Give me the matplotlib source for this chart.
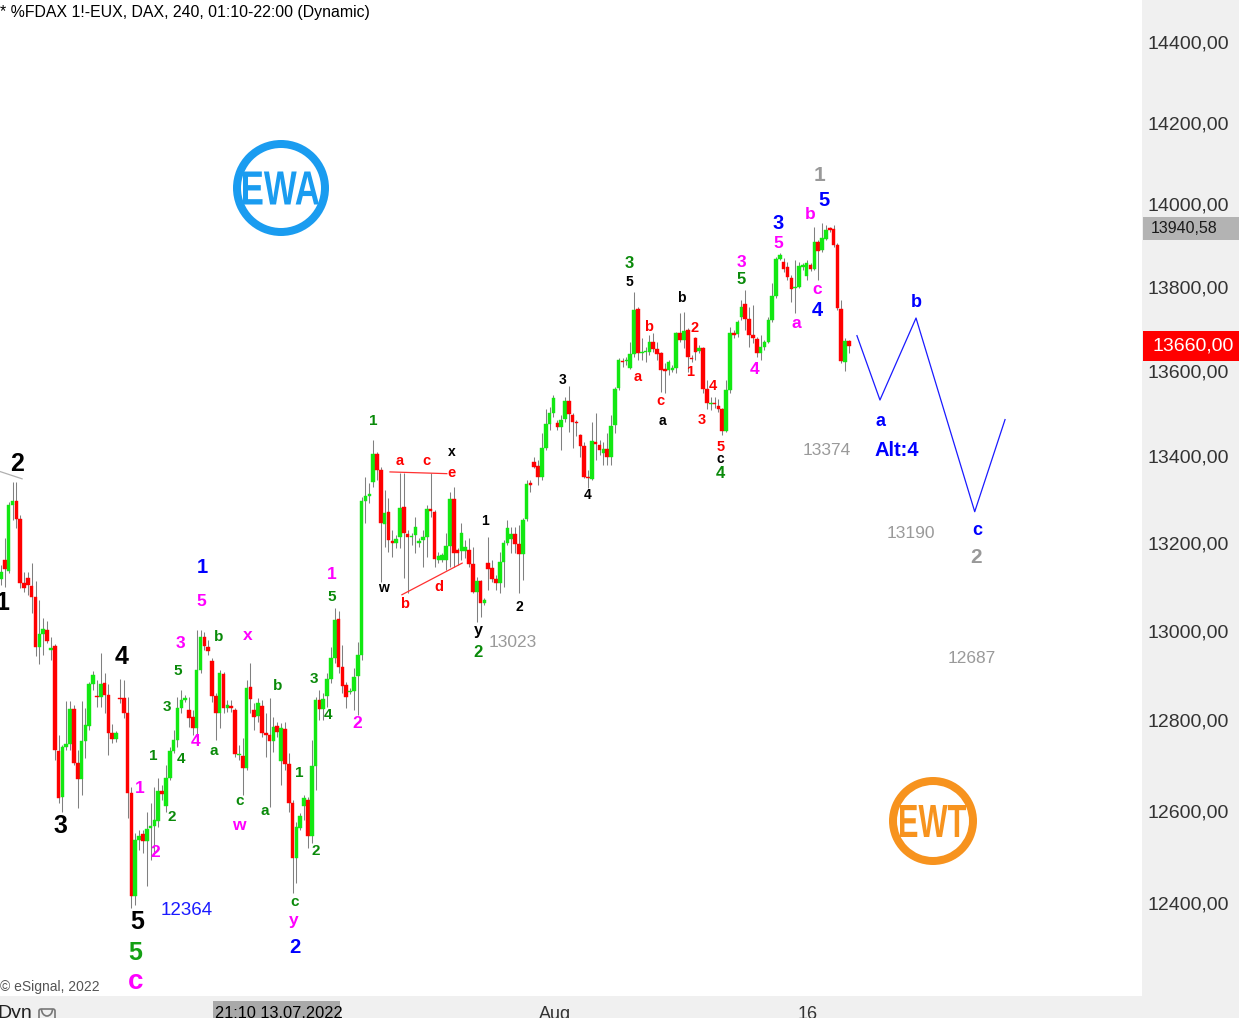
import matplotlib
matplotlib.use("Agg")
import matplotlib.pyplot as plt
from matplotlib.patches import Rectangle, Wedge, PathPatch, FancyBboxPatch, Arc
from matplotlib.textpath import TextPath
from matplotlib.font_manager import FontProperties
from matplotlib.transforms import Affine2D, blended_transform_factory
from matplotlib.ticker import FixedLocator, FuncFormatter, NullLocator

# ---------------- data (FDAX, 240 min bars) ----------------
opens = [13118, 13161, 13136, 13288, 13297, 13255, 13109, 13120, 13102, 13077,
         12964, 12993, 13002, 12957, 12966, 12732, 12631, 12740, 12747, 12825,
         12705, 12670, 12754, 12787, 12881, 12854, 12852, 12883, 12856, 12771,
         12758, 12850, 12850, 12816, 12639, 12415, 12537, 12550, 12535, 12563,
         12567, 12578, 12644, 12611, 12672, 12732, 12756, 12827, 12845, 12823,
         12807, 12782, 12913, 12987, 12964, 12933, 12854, 12816, 12904, 12827,
         12832, 12823, 12723, 12721, 12694, 12875, 12823, 12809, 12832, 12771,
         12767, 12754, 12787, 12710, 12780, 12703, 12617, 12498, 12563, 12611,
         12624, 12546, 12699, 12845, 12825, 12854, 12892, 12939, 13027, 12919,
         12879, 12863, 12865, 12899, 12946, 13297, 13308, 13341, 13406, 13369,
         13244, 13271, 13205, 13200, 13214, 13283, 13221, 13214, 13218, 13200,
         13207, 13214, 13278, 13271, 13161, 13161, 13161, 13193, 13302, 13184,
         13182, 13182, 13184, 13152, 13089, 13113, 13064, 13155, 13143, 13118,
         13109, 13157, 13200, 13209, 13221, 13198, 13175, 13255, 13339, 13387,
         13378, 13353, 13420, 13476, 13502, 13479, 13469, 13488, 13530, 13497,
         13481, 13451, 13425, 13353, 13348, 13434, 13427, 13408, 13418, 13399,
         13474, 13560, 13624, 13624, 13608, 13641, 13747, 13643, 13646, 13646,
         13669, 13653, 13643, 13605, 13603, 13603, 13608, 13691, 13674, 13698,
         13631, 13679, 13648, 13655, 13558, 13523, 13525, 13518, 13511, 13460,
         13556, 13691, 13688, 13729, 13759, 13724, 13686, 13677, 13643, 13657,
         13669, 13722, 13779, 13868, 13860, 13848, 13822, 13798, 13800, 13848,
         13827, 13853, 13843, 13908, 13889, 13916, 13942, 13940, 13901, 13747,
         13622, 13672]
highs = [13150, 13212, 13294, 13341, 13341, 13264, 13134, 13134, 13155, 13113,
         13070, 13030, 13023, 12987, 12971, 12767, 12745, 12843, 12843, 12834,
         12734, 12843, 12827, 12886, 12910, 12890, 12950, 12906, 12881, 12791,
         12776, 12892, 12890, 12852, 12653, 12552, 12559, 12559, 12598, 12617,
         12653, 12672, 12657, 12701, 12740, 12778, 12852, 12868, 12856, 12852,
         12823, 13002, 13002, 12998, 12980, 12939, 12861, 12913, 12908, 12845,
         12845, 12827, 12745, 12760, 12890, 12928, 12838, 12850, 12845, 12816,
         12850, 12807, 12796, 12794, 12796, 12727, 12624, 12576, 12596, 12635,
         12631, 12756, 12852, 12868, 12861, 12906, 12964, 13052, 13045, 12968,
         12886, 12872, 12917, 12975, 13306, 13353, 13339, 13439, 13411, 13376,
         13323, 13304, 13230, 13218, 13362, 13362, 13230, 13223, 13260, 13212,
         13230, 13288, 13362, 13276, 13179, 13177, 13223, 13318, 13329, 13189,
         13246, 13207, 13212, 13191, 13123, 13116, 13075, 13214, 13161, 13127,
         13179, 13207, 13253, 13237, 13237, 13242, 13258, 13346, 13346, 13399,
         13392, 13455, 13511, 13516, 13544, 13486, 13497, 13539, 13565, 13502,
         13486, 13453, 13434, 13369, 13481, 13502, 13439, 13434, 13455, 13497,
         13563, 13631, 13631, 13634, 13669, 13788, 13752, 13679, 13657, 13686,
         13691, 13669, 13646, 13619, 13627, 13615, 13693, 13738, 13740, 13703,
         13638, 13681, 13662, 13657, 13579, 13539, 13539, 13535, 13514, 13579,
         13705, 13698, 13722, 13769, 13793, 13752, 13757, 13681, 13686, 13674,
         13729, 13810, 13872, 13882, 13870, 13860, 13829, 13865, 13860, 13858,
         13865, 13858, 13945, 13914, 13955, 13950, 13945, 13950, 13906, 13769,
         13679, 13674]
lows = [13105, 13100, 13132, 13253, 13235, 13098, 13089, 13082, 13041, 12944,
        12926, 12946, 12973, 12935, 12712, 12617, 12598, 12734, 12734, 12701,
        12606, 12635, 12716, 12778, 12868, 12830, 12830, 12816, 12723, 12749,
        12751, 12839, 12805, 12585, 12390, 12396, 12515, 12509, 12437, 12494,
        12504, 12565, 12624, 12598, 12668, 12727, 12740, 12816, 12841, 12785,
        12767, 12767, 12906, 12957, 12946, 12841, 12756, 12782, 12816, 12818,
        12818, 12718, 12712, 12635, 12690, 12816, 12778, 12796, 12762, 12718,
        12609, 12729, 12762, 12657, 12690, 12598, 12422, 12443, 12559, 12580,
        12520, 12530, 12646, 12800, 12800, 12830, 12883, 12928, 12906, 12861,
        12827, 12859, 12823, 12812, 12935, 13246, 13292, 13330, 13346, 13111,
        13191, 13180, 13168, 13189, 13189, 13120, 13086, 13195, 13177, 13191,
        13145, 13168, 13260, 13145, 13154, 13157, 13139, 13145, 13145, 13150,
        13161, 13166, 13145, 13086, 13020, 13032, 13059, 13093, 13111, 13093,
        13086, 13100, 13195, 13177, 13177, 13086, 13116, 13250, 13318, 13373,
        13334, 13346, 13415, 13462, 13493, 13462, 13415, 13481, 13458, 13420,
        13448, 13399, 13350, 13327, 13346, 13392, 13404, 13380, 13380, 13380,
        13455, 13556, 13610, 13615, 13605, 13634, 13627, 13627, 13622, 13638,
        13646, 13627, 13551, 13549, 13591, 13598, 13596, 13669, 13655, 13598,
        13622, 13627, 13643, 13549, 13511, 13509, 13514, 13504, 13451, 13458,
        13549, 13679, 13681, 13722, 13698, 13657, 13667, 13634, 13627, 13650,
        13667, 13717, 13774, 13865, 13836, 13817, 13764, 13738, 13798, 13841,
        13817, 13839, 13841, 13817, 13884, 13914, 13933, 13897, 13745, 13619,
        13601, 13643]
closes = [13134, 13141, 13288, 13297, 13255, 13109, 13098, 13105, 13077, 12964,
          12993, 13005, 12977, 12962, 12734, 12628, 12740, 12747, 12825, 12705,
          12670, 12754, 12789, 12881, 12901, 12852, 12881, 12856, 12771, 12758,
          12771, 12848, 12816, 12639, 12415, 12537, 12546, 12535, 12561, 12567,
          12580, 12644, 12637, 12672, 12732, 12756, 12827, 12845, 12850, 12805,
          12782, 12913, 12987, 12966, 12955, 12854, 12816, 12906, 12827, 12834,
          12827, 12725, 12725, 12694, 12872, 12848, 12807, 12838, 12771, 12767,
          12754, 12785, 12774, 12782, 12703, 12617, 12498, 12565, 12589, 12628,
          12546, 12699, 12845, 12825, 12848, 12892, 12939, 13025, 12919, 12877,
          12852, 12865, 12897, 12946, 13297, 13308, 13313, 13406, 13369, 13246,
          13269, 13207, 13200, 13209, 13281, 13223, 13214, 13216, 13237, 13205,
          13214, 13278, 13274, 13164, 13170, 13173, 13193, 13302, 13177, 13177,
          13223, 13191, 13152, 13089, 13113, 13064, 13070, 13141, 13118, 13109,
          13157, 13200, 13235, 13221, 13198, 13175, 13253, 13336, 13334, 13376,
          13353, 13420, 13476, 13502, 13537, 13469, 13486, 13530, 13500, 13481,
          13479, 13425, 13353, 13350, 13436, 13429, 13415, 13418, 13399, 13472,
          13558, 13627, 13622, 13627, 13641, 13745, 13643, 13646, 13648, 13669,
          13653, 13641, 13603, 13601, 13622, 13608, 13691, 13674, 13696, 13634,
          13629, 13646, 13655, 13558, 13525, 13525, 13523, 13511, 13460, 13556,
          13691, 13686, 13717, 13752, 13724, 13686, 13679, 13643, 13657, 13669,
          13722, 13779, 13868, 13877, 13843, 13824, 13795, 13800, 13851, 13853,
          13858, 13843, 13908, 13887, 13918, 13938, 13938, 13901, 13750, 13624,
          13672, 13660]

price_ticks = [12400, 12600, 12800, 13000, 13200, 13400, 13600, 13800, 14000, 14200, 14400]
last_price = 13660.00
marker_price = 13940.58

# forecast path (bar index, price)
proj_x = [223.1, 229.1, 238.5, 253.8, 261.7]
proj_y = [13684, 13532, 13726, 13272, 13486]

# triangle lines and old trend line
tri_upper_x, tri_upper_y = [101.4, 116.2], [13364, 13360]
tri_lower_x, tri_lower_y = [104.5, 120.2], [13082, 13154]
trend_x, trend_y = [-0.3, 5.5], [13365, 13348]

# wave labels: (bar index, price, text, style)
labels = [
    (0.4, 13064, "1", "bk"), (4.2, 13383, "2", "bk"), (15.4, 12567, "3", "bk"),
    (31.3, 12942, "4", "bk"), (35.4, 12359, "5", "bk"),
    (35.0, 12292, "5", "gbig"), (35.0, 12232, "c", "mbig"),
    (52.4, 13143, "1", "bl"), (76.6, 12305, "2", "bl"), (202.5, 13952, "3", "bl"),
    (212.7, 13745, "4", "bl"), (214.5, 14010, "5", "bl"),
    (213.4, 14071, "1", "gy"), (254.1, 13166, "2", "gy"),
    (52.1, 13066, "5", "m"), (46.7, 12971, "3", "m"), (64.4, 12989, "x", "m"),
    (50.6, 12752, "4", "m"), (36.2, 12650, "1", "m"), (40.1, 12509, "2", "m"),
    (62.0, 12569, "w", "m"), (76.4, 12363, "y", "m"), (86.3, 13127, "1", "m"),
    (92.8, 12792, "2", "m"), (192.9, 13858, "3", "m"), (196.5, 13603, "4", "m"),
    (202.5, 13904, "5", "m"), (210.8, 13974, "b", "m"), (212.7, 13795, "c", "m"),
    (207.2, 13714, "a", "m"),
    (56.8, 12986, "b", "g"), (46.1, 12910, "5", "g"), (43.3, 12829, "3", "g"),
    (55.5, 12732, "a", "g"), (39.6, 12721, "1", "g"), (46.9, 12714, "4", "g"),
    (44.6, 12587, "2", "g"), (62.3, 12622, "c", "g"), (68.8, 12600, "a", "g"),
    (72.0, 12877, "b", "g"), (76.6, 12402, "c", "g"), (77.7, 12683, "1", "g"),
    (82.1, 12513, "2", "g"), (81.6, 12892, "3", "g"), (85.2, 12812, "4", "g"),
    (86.3, 13077, "5", "g"), (97.0, 13483, "1", "g"), (124.3, 12951, "2", "g2"),
    (163.7, 13856, "3", "g2"), (187.6, 13360, "4", "g2"), (192.9, 13819, "5", "g2"),
    (104.0, 13390, "a", "r"), (111.0, 13390, "c", "r"), (117.5, 13362, "e", "r"),
    (105.3, 13061, "b", "r"), (114.2, 13100, "d", "r"), (168.9, 13705, "b", "r"),
    (180.9, 13703, "2", "r"), (166.0, 13586, "a", "r"), (179.6, 13598, "1", "r"),
    (185.6, 13565, "4", "r"), (172.0, 13530, "c", "r"), (182.7, 13486, "3", "r"),
    (187.6, 13422, "5", "r"),
    (117.5, 13411, "x", "k"), (99.6, 13098, "w", "k"), (126.1, 13250, "1", "k"),
    (124.3, 13000, "y", "k2"), (135.0, 13054, "2", "k"), (146.5, 13579, "3", "k"),
    (153.0, 13311, "4", "k"), (163.7, 13812, "5", "k"), (177.2, 13774, "b", "k"),
    (172.3, 13483, "a", "k"), (187.6, 13394, "c", "k"),
    (229.3, 13481, "a", "pb"), (238.7, 13762, "b", "pb"), (254.4, 13228, "c", "pb"),
    (233.5, 13413, "Alt:4", "alt"),
    (133.4, 12973, "13023", "num"), (215.3, 13413, "13374", "num"),
    (237.2, 13221, "13190", "num"), (253.0, 12939, "12687", "num"),
    (48.5, 12383, "12364", "bnum"),
]

# ---------------- styles ----------------
GREEN_C = "#12e812"
RED_C = "#ff0000"
WICK_C = "#808080"
styles = {
    "bk": dict(color="black", size=18, weight="bold"),
    "gbig": dict(color="#14a014", size=18, weight="bold"),
    "mbig": dict(color="#ff00ff", size=20, weight="bold"),
    "bl": dict(color="#0000ff", size=14.5, weight="bold"),
    "gy": dict(color="#999999", size=15, weight="bold"),
    "m": dict(color="#ff00ff", size=12.5, weight="bold"),
    "g": dict(color="#0a8a0a", size=11, weight="bold"),
    "g2": dict(color="#0a8a0a", size=12, weight="bold"),
    "r": dict(color="#ff0000", size=10.5, weight="bold"),
    "k": dict(color="black", size=10, weight="bold"),
    "k2": dict(color="black", size=11.5, weight="bold"),
    "pb": dict(color="#0000ff", size=13, weight="bold"),
    "alt": dict(color="#0000ff", size=14.5, weight="bold"),
    "num": dict(color="#9a9a9a", size=12.5, weight="normal"),
    "bnum": dict(color="#1a1aff", size=13.5, weight="normal"),
}

plt.rcParams["font.family"] = ["Liberation Sans", "DejaVu Sans"]

W, H = 1239, 1018
fig = plt.figure(figsize=(W / 100, H / 100), dpi=100)
fig.patch.set_facecolor("white")
PX = Affine2D().scale(1.0 / W, -1.0 / H).translate(0, 1) + fig.transFigure

# background panels (behind the axes and its tick labels)
fig.patches.append(Rectangle((1142, 0), W - 1142, H, transform=PX, facecolor="#f0f0f0", edgecolor="none", zorder=-3))
fig.patches.append(Rectangle((0, 996), W, H - 996, transform=PX, facecolor="#f0f0f0", edgecolor="none", zorder=-3))

ax = fig.add_axes([0, (H - 996) / H, 1142 / W, 996 / H])
ax.set_zorder(1)
ax.set_facecolor("white")
ax.set_yscale("log")
ax.set_ylim(12201.4, 14505.4)
ax.set_xlim(-0.26, 297.4)
for s in ax.spines.values():
    s.set_visible(False)
ax.set_xticks([])

# candles
n = len(opens)
for i in range(n):
    o, h, l, c = opens[i], highs[i], lows[i], closes[i]
    ax.vlines(i, l, h, color=WICK_C, linewidth=0.75, zorder=2)
    col = GREEN_C if c >= o else RED_C
    lo_b, hi_b = min(o, c), max(o, c)
    if hi_b - lo_b < 2.0:
        hi_b = lo_b + 2.0
    ax.add_patch(Rectangle((i - 0.47, lo_b), 0.94, hi_b - lo_b, facecolor=col,
                           edgecolor=col, linewidth=0.3, zorder=3))

# lines
ax.plot(proj_x, proj_y, color="#1a1aff", linewidth=0.9, zorder=4)
ax.plot(tri_upper_x, tri_upper_y, color="#ff3030", linewidth=0.9, zorder=4)
ax.plot(tri_lower_x, tri_lower_y, color="#ff3030", linewidth=0.9, zorder=4)
ax.plot(trend_x, trend_y, color="#b0b0b0", linewidth=0.9, zorder=4)

# labels
for x, y, t, st in labels:
    ax.text(x, y, t, ha="center", va="center", zorder=6, **styles[st])

# price axis on right
ax.yaxis.tick_right()
ax.yaxis.set_major_locator(FixedLocator(price_ticks))
ax.yaxis.set_minor_locator(NullLocator())
ax.yaxis.set_major_formatter(FuncFormatter(lambda v, p: f"{v:.2f}".replace(".", ",")))
ax.tick_params(axis="y", length=0, pad=4.3, labelsize=14, labelcolor="#333333")

# price markers on axis
bt = blended_transform_factory(fig.transFigure, ax.transData)
fig.patches.append(Rectangle((1143, 217), 96, 23, transform=PX, facecolor="#b3b3b3", edgecolor="none", zorder=-2))
fig.text(1151 / W, marker_price, f"{marker_price:.2f}".replace(".", ","), transform=bt,
         ha="left", va="center", fontsize=11.5, color="#1a1a1a", zorder=5)
fig.patches.append(Rectangle((1143, 331), 96, 30, transform=PX, facecolor="#ff0000", edgecolor="none", zorder=-2))
fig.text(1153 / W, last_price, f"{last_price:.2f}".replace(".", ","), transform=bt,
         ha="left", va="center", fontsize=14, color="white", zorder=5)

# title & copyright
fig.text(0 / W, 1 - 13 / H, "* %FDAX 1!-EUX, DAX, 240, 01:10-22:00 (Dynamic)",
         ha="left", va="center", fontsize=11.4, color="black", zorder=5)
fig.text(0 / W, 1 - 987 / H, "\u00a9 eSignal, 2022", ha="left", va="center",
         fontsize=10, color="#555555", zorder=5)

# bottom time strip
fig.text(-3 / W, 1 - 1018 / H, "Dyn", ha="left", va="baseline", fontsize=14, color="#222222", zorder=5)
fig.patches.append(FancyBboxPatch((39, 1009), 16, 12, boxstyle="round,pad=0,rounding_size=2",
                                  transform=PX, facecolor="none", edgecolor="#777777", linewidth=1.2, zorder=3))
fig.patches.append(Arc((47, 1009), 11, 14, theta1=0, theta2=180, transform=PX,
                       edgecolor="#777777", linewidth=1.2, zorder=3))
fig.patches.append(Rectangle((213, 1001), 127, 20, transform=PX, facecolor="#a9a9a9", edgecolor="none", zorder=-2))
fig.text(215 / W, 1 - 1018 / H, "21:10 13.07.2022", ha="left", va="baseline", fontsize=11.8, color="black", zorder=5)
fig.text(555 / W, 1 - 1019 / H, "Aug", ha="center", va="baseline", fontsize=13, color="#333333", zorder=5)
fig.text(808 / W, 1 - 1019 / H, "16", ha="center", va="baseline", fontsize=13, color="#333333", zorder=5)

# logos
def logo(cx, cy, r, ring, text, w, h, color):
    fig.patches.append(Wedge((cx, cy), r, 0, 360, width=ring, transform=PX,
                             facecolor=color, edgecolor="none", zorder=5))
    fp = FontProperties(family="Liberation Sans", weight="bold")
    tp = TextPath((0, 0), text, size=100, prop=fp)
    ext = tp.get_extents()
    tr = (Affine2D().translate(-ext.x0, -ext.y0)
          .scale(w / ext.width, -h / ext.height)
          .translate(cx - w / 2, cy + h / 2))
    path = tr.transform_path(tp)
    fig.patches.append(PathPatch(path, transform=PX, facecolor=color, edgecolor="none", zorder=5))

logo(281, 188, 48, 8, "EWA", 76, 33, "#1a9cf0")
logo(933, 821, 44, 8, "EWT", 66, 32, "#f7931e")

fig.savefig("out.png", dpi=100, facecolor=fig.get_facecolor())
